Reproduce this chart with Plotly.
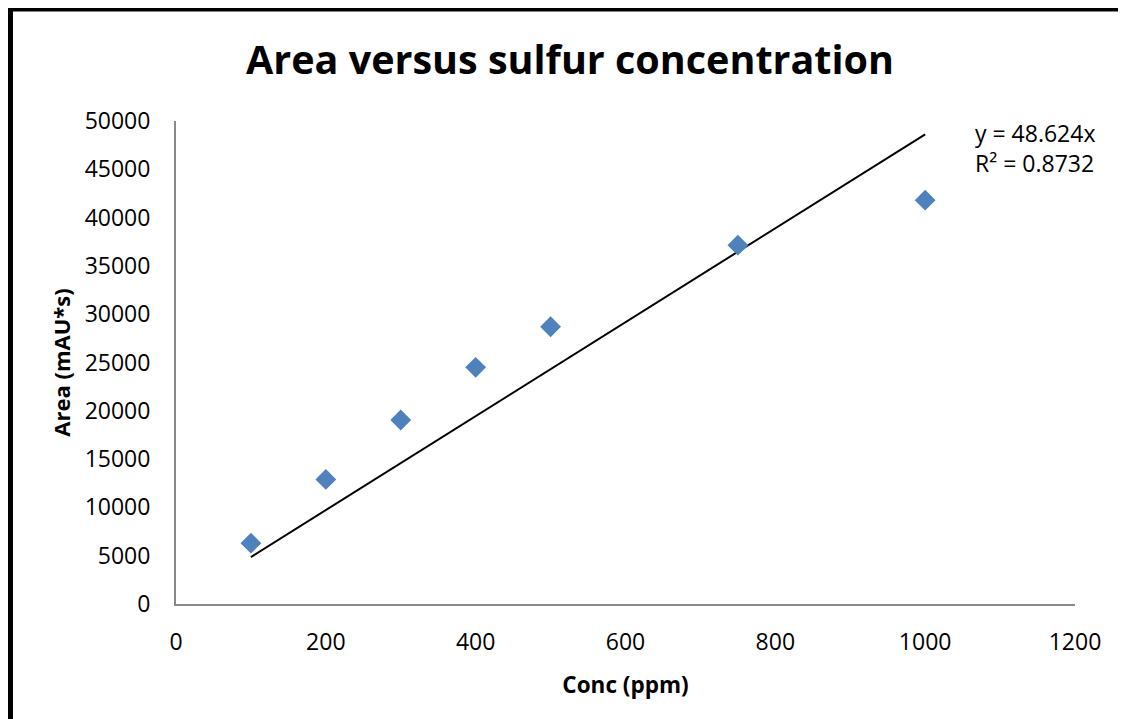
import plotly.graph_objects as go

conc = [100, 200, 300, 400, 500, 750, 1000]
area = [6300, 12900, 19050, 24500, 28700, 37150, 41800]
slope = 48.624
r2 = 0.8732
x_ticks = [0, 200, 400, 600, 800, 1000, 1200]
y_ticks = [0, 5000, 10000, 15000, 20000, 25000, 30000, 35000, 40000, 45000, 50000]

OFF = 8  # page body margin
W, H = 1126 - OFF, 719 - OFF
L, T = 176 - OFF, 121 - OFF
R = W - (1075 - OFF)
B = H - (604 - OFF)

trend_x = [min(conc), max(conc)]
trend_y = [slope * v for v in trend_x]

fig = go.Figure()
fig.add_trace(go.Scatter(x=trend_x, y=trend_y, mode="lines",
                         line=dict(color="black", width=2), hoverinfo="skip"))
fig.add_trace(go.Scatter(x=conc, y=area, mode="markers",
                         marker=dict(symbol="diamond", size=16, color="#4F81BD")))

pw, ph = W - L - R, H - T - B
def px(xp): return (xp - OFF - L) / pw
def py(yp): return (H - B - (yp - OFF)) / ph

fig.update_layout(
    width=W, height=H,
    margin=dict(l=L, r=R, t=T, b=B, autoexpand=False),
    paper_bgcolor="white", plot_bgcolor="white",
    showlegend=False,
    font=dict(family="Open Sans", color="black"),
    title=dict(text="<b>Area versus sulfur concentration</b>", x=(570 - OFF) / W, xanchor="center",
               y=1 - (60 - OFF) / H, yanchor="middle", font=dict(size=39.5, family="Open Sans", color="black")),
    xaxis=dict(range=[0, 1200], tickvals=x_ticks, tickformat="d", showgrid=False, zeroline=False,
               showline=True, linecolor="#888888", linewidth=2, ticks="",
               tickfont=dict(size=23), ticklabelstandoff=16,
               title=dict(text="<b>Conc (ppm)</b>", font=dict(size=22.5), standoff=22)),
    yaxis=dict(range=[0, 50000], tickvals=y_ticks, tickformat="d", showgrid=False, zeroline=False,
               showline=True, linecolor="#888888", linewidth=2, ticks="",
               tickfont=dict(size=23), ticklabelstandoff=19,
               title=dict(text="<b>Area (mAU*s)</b>", font=dict(size=22), standoff=8)),
    shapes=[
        dict(type="line", xref="paper", yref="paper", x0=px(8), x1=px(1140), y0=py(9.5), y1=py(9.5),
             line=dict(color="black", width=4)),
        dict(type="line", xref="paper", yref="paper", x0=px(10.5), x1=px(10.5), y0=py(8), y1=py(730),
             line=dict(color="black", width=5)),
    ],
    annotations=[
        dict(text=f"y = {slope}x<br>R² = {r2}", xref="paper", yref="paper",
             x=px(973), y=py(115), xanchor="left", yanchor="top", align="left",
             showarrow=False, font=dict(size=23, color="black")),
    ],
)

fig.write_html("out.html", post_script="document.documentElement.style.overflow='hidden';document.body.style.overflow='hidden';")
